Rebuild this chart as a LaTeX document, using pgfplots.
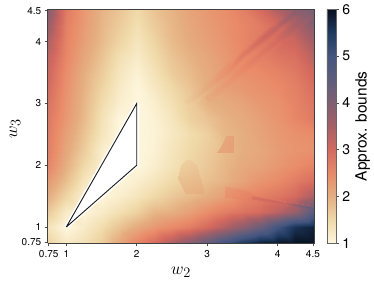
\documentclass[border=0pt]{standalone}
\usepackage{pgfplots}
\usepackage{fontspec}
\setmainfont{TeX Gyre Heros}
\pgfplotsset{compat=1.18}
\begin{document}
\begin{tikzpicture}[x=1pt,y=1pt]
\path[use as bounding box] (0,0) rectangle (374,286);
\begin{axis}[
  at={(47.7pt,42.7pt)}, anchor=south west,
  scale only axis, width=266.9pt, height=234pt,
  view={0}{90},
  xmin=0.736, xmax=4.524, ymin=0.736, ymax=4.524,
  xtick={0.75,1,2,3,4,4.5}, ytick={0.75,1,2,3,4,4.5}, ztick=\empty,
  xticklabels={0.75,1,2,3,4,4.5}, yticklabels={0.75,1,2,3,4,4.5},
  tick align=outside, xtick pos=left, ytick pos=left,
  major tick length=3pt,
  every tick/.style={draw=black!70,line width=0.6pt},
  axis line style={draw=black!75,line width=0.7pt},
  tick label style={font=\fontsize{10}{12}\selectfont},
  xticklabel style={yshift=-1pt},
  /pgf/number format/assume math mode=true,
  xlabel={$w_2$}, ylabel={$w_3$},
  label style={font=\fontsize{19}{22}\selectfont},
  xlabel style={at={(axis description cs:0.4995,-0.124)},anchor=center},
  ylabel style={at={(axis description cs:-0.1225,0.49)},anchor=center},
  colormap={lj}{
    rgb255=(254,247,222) rgb255=(240,217,168) rgb255=(229,174,128) rgb255=(233,138,104)
    rgb255=(213,106,94) rgb255=(168,95,102) rgb255=(127,95,114) rgb255=(94,93,126)
    rgb255=(67,85,128) rgb255=(31,58,96) rgb255=(7,16,31)},
  point meta min=1, point meta max=6,
  colorbar,
  colorbar style={
    at={(parent axis.north east)}, anchor=north west, xshift=3.7pt,
    scale only axis, width=9pt, height=234pt,
    ytick={1,2,3,4,5,6}, yticklabels={1,2,3,4,5,6},
    ytick pos=right, yticklabel pos=right, tick align=outside,
    major tick length=3pt,
    every tick/.style={draw=black!70,line width=0.6pt},
    axis line style={draw=black!60,line width=0.5pt},
    tick label style={font=\fontsize{14}{16}\selectfont},
    /pgf/number format/assume math mode=true,
    ylabel={Approx. bounds},
    ylabel style={font=\fontsize{15.5}{18}\selectfont,at={(axis description cs:3.97,0.5)},anchor=center},
  },
]
\addplot3[surf, shader=interp, mesh/cols=16, point meta=z] coordinates {
(0.73,0.73,1.6)(1,0.73,1.25)(1.25,0.73,1.4)(1.5,0.73,1.65)(1.75,0.73,2.1)(2,0.73,2.6)(2.25,0.73,3.0)(2.5,0.73,3.5)(2.75,0.73,4.0)(3,0.73,4.5)(3.25,0.73,5.1)(3.5,0.73,5.6)(3.75,0.73,5.95)(4,0.73,6)(4.25,0.73,6)(4.53,0.73,6)

(0.73,1,1.35)(1,1,1.0)(1.25,1,1.2)(1.5,1,1.45)(1.75,1,1.75)(2,1,2.05)(2.25,1,2.3)(2.5,1,2.5)(2.75,1,2.7)(3,1,3.0)(3.25,1,3.4)(3.5,1,3.8)(3.75,1,4.3)(4,1,5.0)(4.25,1,5.6)(4.53,1,5.8)

(0.73,1.25,1.7)(1,1.25,1.2)(1.25,1.25,1.05)(1.5,1.25,1.2)(1.75,1.25,1.4)(2,1.25,1.6)(2.25,1.25,1.9)(2.5,1.25,2.0)(2.75,1.25,2.2)(3,1.25,2.45)(3.25,1.25,2.7)(3.5,1.25,2.85)(3.75,1.25,3.0)(4,1.25,3.3)(4.25,1.25,3.7)(4.53,1.25,4.7)

(0.73,1.5,2.05)(1,1.5,1.55)(1.25,1.5,1.1)(1.5,1.5,1.02)(1.75,1.5,1.15)(2,1.5,1.3)(2.25,1.5,1.5)(2.5,1.5,1.7)(2.75,1.5,1.85)(3,1.5,2.0)(3.25,1.5,2.2)(3.5,1.5,2.5)(3.75,1.5,2.65)(4,1.5,2.8)(4.25,1.5,3.0)(4.53,1.5,3.5)

(0.73,1.75,2.3)(1,1.75,1.8)(1.25,1.75,1.3)(1.5,1.75,1.0)(1.75,1.75,1.02)(2,1.75,1.15)(2.25,1.75,1.3)(2.5,1.75,1.5)(2.75,1.75,1.65)(3,1.75,1.8)(3.25,1.75,1.95)(3.5,1.75,2.15)(3.75,1.75,2.35)(4,1.75,2.5)(4.25,1.75,2.7)(4.53,1.75,2.95)

(0.73,2,2.6)(1,2,2.0)(1.25,2,1.5)(1.5,2,1.12)(1.75,2,1)(2,2,1)(2.25,2,1.15)(2.5,2,1.35)(2.75,2,1.55)(3,2,1.7)(3.25,2,1.9)(3.5,2,2.05)(3.75,2,2.15)(4,2,2.3)(4.25,2,2.45)(4.53,2,2.6)

(0.73,2.25,2.7)(1,2.25,2.1)(1.25,2.25,1.65)(1.5,2.25,1.15)(1.75,2.25,1)(2,2.25,1)(2.25,2.25,1.1)(2.5,2.25,1.3)(2.75,2.25,1.5)(3,2.25,1.65)(3.25,2.25,1.85)(3.5,2.25,2.0)(3.75,2.25,2.1)(4,2.25,2.25)(4.25,2.25,2.35)(4.53,2.25,2.4)

(0.73,2.5,2.75)(1,2.5,2.2)(1.25,2.5,1.75)(1.5,2.5,1.3)(1.75,2.5,1)(2,2.5,1)(2.25,2.5,1.08)(2.5,2.5,1.25)(2.75,2.5,1.45)(3,2.5,1.6)(3.25,2.5,1.9)(3.5,2.5,2.0)(3.75,2.5,2.15)(4,2.5,2.3)(4.25,2.5,2.4)(4.53,2.5,2.5)

(0.73,2.75,2.8)(1,2.75,2.3)(1.25,2.75,1.85)(1.5,2.75,1.35)(1.75,2.75,1.02)(2,2.75,1)(2.25,2.75,1.1)(2.5,2.75,1.3)(2.75,2.75,1.6)(3,2.75,1.75)(3.25,2.75,1.95)(3.5,2.75,2.05)(3.75,2.75,2.2)(4,2.75,2.35)(4.25,2.75,2.55)(4.53,2.75,2.75)

(0.73,3,2.9)(1,3,2.35)(1.25,3,1.9)(1.5,3,1.45)(1.75,3,1.15)(2,3,1)(2.25,3,1.15)(2.5,3,1.4)(2.75,3,1.65)(3,3,1.95)(3.25,3,2.05)(3.5,3,2.15)(3.75,3,2.3)(4,3,2.4)(4.25,3,2.6)(4.53,3,2.85)

(0.73,3.25,3.0)(1,3.25,2.4)(1.25,3.25,1.95)(1.5,3.25,1.55)(1.75,3.25,1.22)(2,3.25,1.02)(2.25,3.25,1.25)(2.5,3.25,1.5)(2.75,3.25,1.75)(3,3.25,2.0)(3.25,3.25,2.2)(3.5,3.25,2.3)(3.75,3.25,2.4)(4,3.25,2.5)(4.25,3.25,2.65)(4.53,3.25,2.95)

(0.73,3.5,3.1)(1,3.5,2.45)(1.25,3.5,2.0)(1.5,3.5,1.65)(1.75,3.5,1.3)(2,3.5,1.1)(2.25,3.5,1.35)(2.5,3.5,1.65)(2.75,3.5,1.85)(3,3.5,2.05)(3.25,3.5,2.25)(3.5,3.5,2.4)(3.75,3.5,2.5)(4,3.5,2.6)(4.25,3.5,2.75)(4.53,3.5,3.1)

(0.73,3.75,3.25)(1,3.75,2.55)(1.25,3.75,2.1)(1.5,3.75,1.75)(1.75,3.75,1.4)(2,3.75,1.2)(2.25,3.75,1.45)(2.5,3.75,1.75)(2.75,3.75,1.95)(3,3.75,2.1)(3.25,3.75,2.3)(3.5,3.75,2.5)(3.75,3.75,2.65)(4,3.75,2.8)(4.25,3.75,2.9)(4.53,3.75,3.35)

(0.73,4,3.45)(1,4,2.6)(1.25,4,2.2)(1.5,4,1.85)(1.75,4,1.55)(2,4,1.3)(2.25,4,1.55)(2.5,4,1.85)(2.75,4,2.05)(3,4,2.2)(3.25,4,2.35)(3.5,4,2.55)(3.75,4,2.75)(4,4,3.0)(4.25,4,3.1)(4.53,4,3.6)

(0.73,4.25,3.7)(1,4.25,2.65)(1.25,4.25,2.25)(1.5,4.25,1.9)(1.75,4.25,1.65)(2,4.25,1.4)(2.25,4.25,1.65)(2.5,4.25,1.9)(2.75,4.25,2.1)(3,4.25,2.25)(3.25,4.25,2.4)(3.5,4.25,2.55)(3.75,4.25,2.7)(4,4.25,3.0)(4.25,4.25,3.4)(4.53,4.25,3.95)

(0.73,4.53,4.0)(1,4.53,2.75)(1.25,4.53,2.3)(1.5,4.53,1.95)(1.75,4.53,1.75)(2,4.53,1.5)(2.25,4.53,1.75)(2.5,4.53,1.95)(2.75,4.53,2.15)(3,4.53,2.3)(3.25,4.53,2.45)(3.5,4.53,2.65)(3.75,4.53,3.0)(4,4.53,3.45)(4.25,4.53,3.85)(4.53,4.53,4.1)
};
% diagonal bands
\addplot3[surf, shader=interp, mesh/cols=3, point meta=z, forget plot] coordinates {
(2.65,3.05,1.6)(2.7,3.0,1.65)(2.75,2.95,1.6)

(2.95,3.32,2.0)(3.0,3.27,2.08)(3.05,3.22,2.0)

(3.2,3.55,2.3)(3.25,3.5,2.4)(3.3,3.45,2.3)

(3.45,3.83,2.5)(3.5,3.78,2.75)(3.55,3.73,2.5)

(3.7,4.07,2.75)(3.75,4.02,3.05)(3.8,3.97,2.75)

(3.95,4.3,3.0)(4,4.25,3.3)(4.05,4.2,3.0)

(4.2,4.53,3.7)(4.25,4.48,3.9)(4.3,4.43,3.7)
};
\addplot3[surf, shader=interp, mesh/cols=3, point meta=z, forget plot] coordinates {
(2.95,3.1,1.97)(3.0,3.05,2.03)(3.05,3.0,1.97)

(3.45,3.6,2.45)(3.5,3.55,2.55)(3.55,3.5,2.45)

(3.7,3.85,2.65)(3.75,3.8,2.77)(3.8,3.75,2.65)

(3.95,4.07,2.9)(4.0,4.02,3.03)(4.05,3.97,2.9)

(4.2,4.32,3.4)(4.25,4.27,3.5)(4.3,4.22,3.4)

(4.46,4.56,4.1)(4.52,4.5,4.1)(4.58,4.44,4.1)
};
% patches with sharp edges in the lower right part
\addplot3[surf, shader=interp, mesh/cols=2, point meta=z, forget plot] coordinates {
(3.13,2.2,2.1)(3.37,2.2,2.2)

(3.2,2.3,2.1)(3.37,2.3,2.2)

(3.27,2.47,2.1)(3.37,2.47,2.2)
};
\addplot3[surf, shader=interp, mesh/cols=2, point meta=z, forget plot] coordinates {
(2.68,1.55,1.92)(2.95,1.55,2.02)

(2.58,1.8,1.75)(2.9,1.8,1.85)

(2.63,2.0,1.62)(2.84,2.0,1.72)

(2.7,2.08,1.6)(2.77,2.08,1.63)
};
\addplot3[surf, shader=interp, mesh/cols=2, point meta=z, forget plot] coordinates {
(3.25,1.48,2.4)(3.9,1.38,2.95)

(3.25,1.66,2.25)(3.55,1.6,2.5)
};
\addplot3[surf, shader=interp, mesh/cols=3, point meta=z, forget plot] coordinates {
(3.63,1.52,2.6)(3.63,1.49,2.9)(3.63,1.46,2.85)

(4.1,1.42,2.85)(4.1,1.39,3.25)(4.1,1.36,3.1)

(4.53,1.34,3.7)(4.53,1.3,4.7)(4.53,1.26,4.5)
};
\addplot3[draw=white, line width=4pt, line join=round, fill=white, forget plot] coordinates {(1,1,0)(2,3,0)(2,2,0)(1,1,0)};
\addplot3[draw=black!90, line width=0.9pt, line join=miter, forget plot] coordinates {(1,1,0)(2,3,0)(2,2,0)(1,1,0)};
\end{axis}
\end{tikzpicture}
\end{document}
